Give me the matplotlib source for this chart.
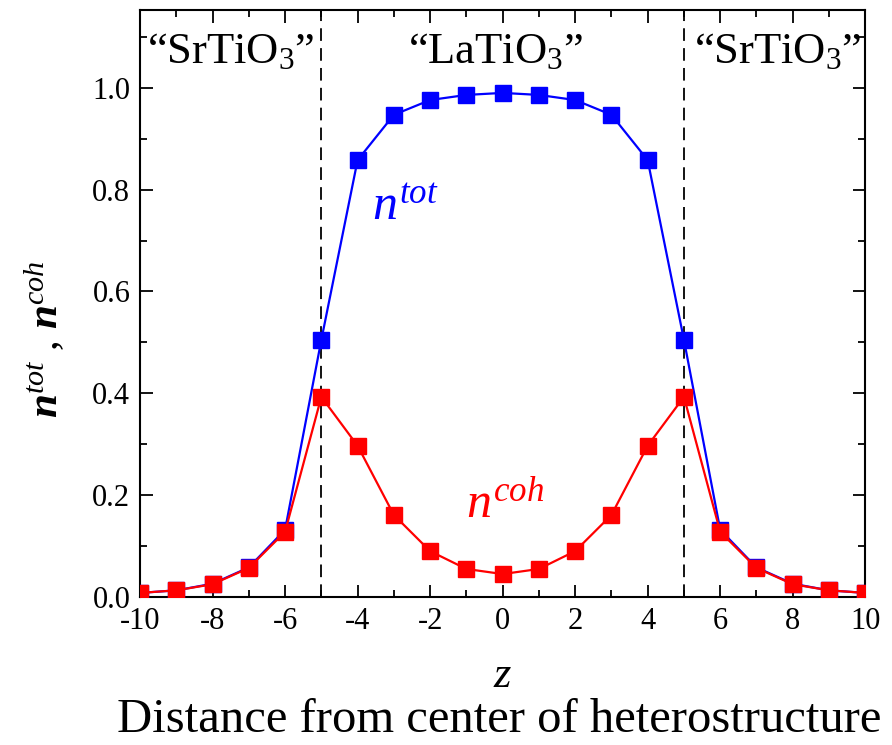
import matplotlib
matplotlib.use('Agg')
import matplotlib.pyplot as plt
from matplotlib.ticker import MultipleLocator
import numpy as np

plt.rcParams['font.family'] = 'Liberation Serif'
plt.rcParams['axes.unicode_minus'] = False
plt.rcParams['mathtext.fontset'] = 'custom'
plt.rcParams['mathtext.rm'] = 'Liberation Serif'
plt.rcParams['mathtext.it'] = 'Liberation Serif:italic'
plt.rcParams['mathtext.bf'] = 'Liberation Serif:bold:italic'

# data
z = list(range(-10, 11))
n_tot_half = [0.008, 0.013, 0.026, 0.058, 0.132, 0.505, 0.858, 0.947, 0.976, 0.986, 0.990]
n_coh_half = [0.008, 0.013, 0.025, 0.057, 0.128, 0.393, 0.297, 0.161, 0.090, 0.055, 0.045]
n_tot = n_tot_half + n_tot_half[-2::-1]
n_coh = n_coh_half + n_coh_half[-2::-1]
interfaces = [-5, 5]
regions = ['\u201cSrTiO$_3$\u201d', '\u201cLaTiO$_3$\u201d', '\u201cSrTiO$_3$\u201d']
region_x = [-7.5, -0.2, 7.6]

fig = plt.figure(figsize=(8.92, 7.45), dpi=100)
ax = fig.add_axes([0.157, 0.1987, 0.813, 0.788])

for xi in interfaces:
    ax.axvline(xi, color='black', ls=(0, (7, 4)), lw=1.3, zorder=1)

ax.plot(z, n_tot, color='#0000ff', lw=1.6, marker='s', ms=11.5, zorder=3)
ax.plot(z, n_coh, color='#ff0000', lw=1.6, marker='s', ms=11.5, zorder=4)

for xr, t in zip(region_x, regions):
    ax.text(xr, 1.07, t, ha='center', va='center', fontsize=32)

ax.text(-3.6, 0.74, r'$n^{tot}$', color='#0000ff', fontsize=36, ha='left')
ax.text(-1.0, 0.155, r'$n^{coh}$', color='#ff0000', fontsize=36, ha='left')

ax.set_xlim(-10, 10)
ax.set_ylim(0, 1.153)
ax.xaxis.set_major_locator(MultipleLocator(2))
ax.xaxis.set_minor_locator(MultipleLocator(1))
ax.yaxis.set_major_locator(MultipleLocator(0.2))
ax.yaxis.set_minor_locator(MultipleLocator(0.1))
ax.yaxis.set_major_formatter(plt.FormatStrFormatter('%.1f'))
ax.tick_params(which='both', direction='in', top=True, right=True, width=1.3, labelsize=22)
ax.tick_params(which='major', length=9, pad=7)
ax.tick_params(which='minor', length=5)
for s in ax.spines.values():
    s.set_linewidth(1.5)

fig.text(45 / 892, 1 - 339 / 745, r'$\mathbf{n}^{tot}$ , $\mathbf{n}^{coh}$', fontsize=31,
         rotation=90, ha='center', va='center')
fig.text(0.563, 0.092, r'$z$', fontsize=32, ha='center', va='center')
fig.text(0.56, 0.033, 'Distance from center of heterostructure', fontsize=35, ha='center', va='center')

fig.savefig('out.png', dpi=100)
